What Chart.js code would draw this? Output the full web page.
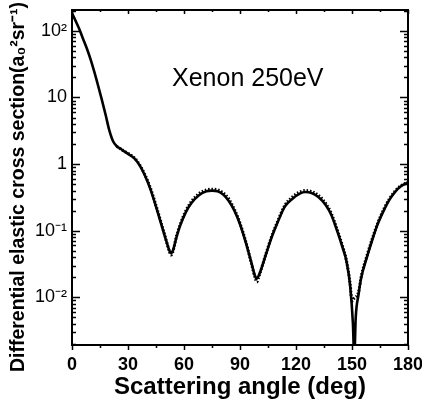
<!DOCTYPE html>
<html><head><meta charset="utf-8">
<script src="https://cdn.jsdelivr.net/npm/chart.js@4/dist/chart.umd.min.js"></script>
<style>html,body{margin:0;padding:0;background:#fff}</style>
</head><body>
<canvas id="c" width="422" height="407" style="width:422px;height:407px;display:block"></canvas>
<script>
// Solid curve (theory)
const angleSolid = [0,2,4,6,8,10,12,14,16,18,20,22,24,26,28,30,33,36,39,42,45,48,50,52,53,54,56,58,61,64,68,72,75,78,81,84,87,90,93,96,98,99,100,102,104,107,110,114,118,122,125,128,132,136,139,142,145,147,149,150.5,151.2,152,153.5,155,158,161,164,167,170,173,176,180];
const csSolid    = [185,140,105,75,54,37,24,15,9.2,5.5,3.2,2.2,1.85,1.7,1.55,1.42,1.25,0.98,0.68,0.42,0.23,0.12,0.078,0.052,0.046,0.05,0.08,0.12,0.19,0.26,0.34,0.39,0.40,0.39,0.35,0.28,0.2,0.125,0.068,0.034,0.021,0.019,0.021,0.03,0.045,0.08,0.13,0.23,0.3,0.36,0.38,0.37,0.32,0.24,0.17,0.1,0.055,0.035,0.015,0.004,0.0012,0.005,0.011,0.02,0.04,0.075,0.13,0.2,0.29,0.38,0.46,0.53];
// Dotted curve (second data set)
const angleDots = [24,27,30,33,36,39,42,45,48,50,52,53,54,56,58,61,64,68,72,75,78,81,84,87,90,93,96,98,99,100,102,104,107,110,114,118,122,125,128,132,136,139,142,145,147,149,150,151,153.5,155,158,161,164,167,170,173,176,180];
const csDots    = [1.85,1.62,1.45,1.27,1.0,0.7,0.44,0.24,0.125,0.08,0.05,0.043,0.048,0.083,0.125,0.2,0.275,0.36,0.41,0.42,0.41,0.37,0.3,0.21,0.13,0.07,0.033,0.02,0.017,0.02,0.03,0.046,0.083,0.135,0.24,0.32,0.38,0.40,0.39,0.34,0.255,0.18,0.105,0.058,0.036,0.016,0.0087,0.0095,0.012,0.021,0.042,0.078,0.135,0.21,0.3,0.39,0.47,0.53];
const xTickValues = [0,30,60,90,120,150,180];
const yTickValues = [0.01,0.1,1,10,100];
const yTickLabels = ['10\u207B\u00B2','10\u207B\u00B9','1','10','10\u00B2'];
const annotationText = 'Xenon 250eV';
const xTitle = 'Scattering angle (deg)';
const yTitle = 'Differential elastic cross section(a\u2080\u00B2sr\u207B\u00B9)';

const FONT = "'Liberation Sans', Arial, sans-serif";

const framePlugin = {
  id: 'frame',
  afterDraw(chart) {
    const {ctx, chartArea: a, scales: {x, y}} = chart;
    ctx.save();
    ctx.strokeStyle = '#000';
    ctx.lineWidth = 2;
    ctx.strokeRect(a.left, a.top, a.right - a.left, a.bottom - a.top);
    ctx.lineWidth = 1.5;
    ctx.beginPath();
    for (let e = -3; e <= 2; e++) {
      for (let m = 1; m <= 9; m++) {
        const v = m * Math.pow(10, e);
        if (v < y.min || v > y.max) continue;
        const py = Math.round(y.getPixelForValue(v)) + 0.5;
        const len = m === 1 ? 8 : 4;
        ctx.moveTo(a.left, py); ctx.lineTo(a.left + len, py);
        ctx.moveTo(a.right, py); ctx.lineTo(a.right - len, py);
      }
    }
    for (let v = 0; v <= 180; v += 15) {
      const px = Math.round(x.getPixelForValue(v)) + 0.5;
      const len = v % 30 === 0 ? 5 : 3;
      ctx.moveTo(px, a.bottom); ctx.lineTo(px, a.bottom + len);
      ctx.moveTo(px, a.top); ctx.lineTo(px, a.top + len - 1);
    }
    ctx.stroke();
    ctx.fillStyle = '#000';
    ctx.font = '25px ' + FONT;
    ctx.textBaseline = 'alphabetic';
    ctx.textAlign = 'left';
    ctx.fillText(annotationText, 172, 86);
    // y axis title
    ctx.translate(19, 187);
    ctx.rotate(-Math.PI / 2);
    ctx.font = 'bold 19.5px ' + FONT;
    ctx.textAlign = 'center';
    ctx.textBaseline = 'middle';
    ctx.fillText(yTitle, 0, 0);
    ctx.restore();
  }
};

new Chart(document.getElementById('c'), {
  type: 'line',
  data: {
    datasets: [
      {
        data: angleSolid.map((a, i) => ({x: a, y: csSolid[i]})),
        borderColor: '#000', borderWidth: 2.6, pointRadius: 0,
        cubicInterpolationMode: 'monotone', order: 1
      },
      {
        data: angleDots.map((a, i) => ({x: a, y: csDots[i]})),
        borderColor: '#000', borderWidth: 3, borderDash: [1.5, 1.8], pointRadius: 0,
        cubicInterpolationMode: 'monotone', order: 2
      }
    ]
  },
  options: {
    responsive: false,
    animation: false,
    devicePixelRatio: 1,
    layout: {padding: {top: 10, right: 14, left: 0, bottom: 0}},
    plugins: {legend: {display: false}, tooltip: {enabled: false}},
    scales: {
      x: {
        type: 'linear', min: 0, max: 180,
        grid: {display: false, drawTicks: false},
        border: {display: false},
        afterBuildTicks: s => { s.ticks = xTickValues.map(v => ({value: v})); },
        afterFit: s => { s.height = 62; s.paddingLeft = 0; s.paddingRight = 0; },
        ticks: {padding: 9, color: '#000', font: {family: FONT, size: 18, weight: 'bold'}, maxRotation: 0, autoSkip: false},
        title: {display: true, text: xTitle, color: '#000', font: {family: FONT, size: 24, weight: 'bold'}, padding: {top: 0, bottom: 5}}
      },
      y: {
        type: 'logarithmic', min: 0.00192, max: 206,
        grid: {display: false, drawTicks: false},
        border: {display: false},
        afterBuildTicks: s => { s.ticks = yTickValues.map(v => ({value: v})); },
        afterFit: s => { s.width = 72; s.paddingTop = 0; s.paddingBottom = 0; },
        ticks: {padding: 5, color: '#000', font: {family: FONT, size: 18},
          autoSkip: false,
          callback: (v) => { const i = yTickValues.indexOf(v); return i >= 0 ? yTickLabels[i] : ''; }},
        title: {display: false}
      }
    }
  },
  plugins: [framePlugin]
});
</script>
</body></html>
